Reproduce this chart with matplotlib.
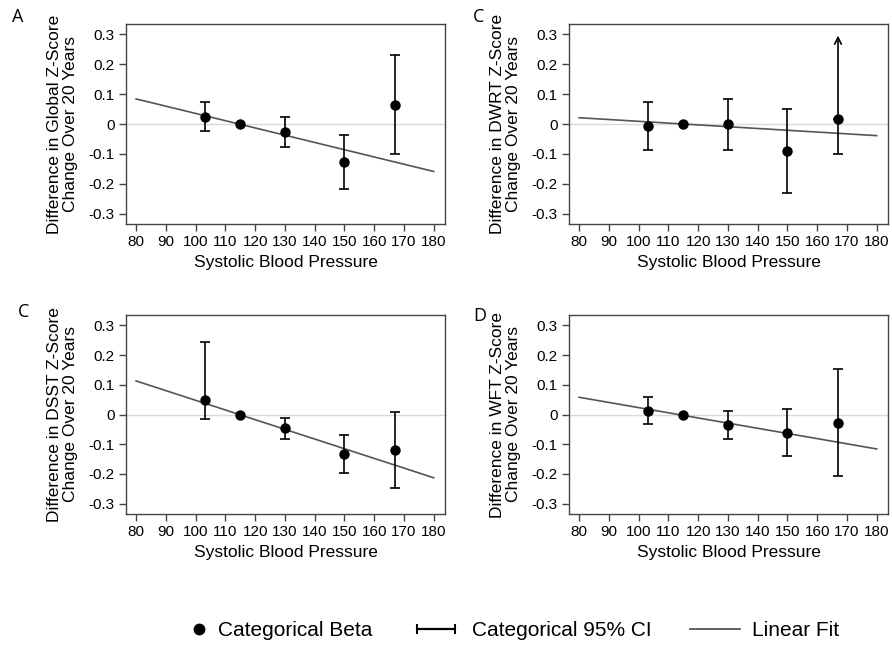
import numpy as np
import matplotlib
matplotlib.use("Agg")
import matplotlib.pyplot as plt
from matplotlib.lines import Line2D
from matplotlib.legend_handler import HandlerLine2D

plt.rcParams['font.family'] = ['Liberation Sans', 'DejaVu Sans']
plt.rcParams['axes.unicode_minus'] = False

# SBP category midpoints (115 is the reference category)
sbp = [103, 115, 130, 150, 167]
fit_x = [80, 180]

global_beta = [0.025, 0.0, -0.028, -0.127, 0.064]
global_lo = [-0.023, np.nan, -0.078, -0.217, -0.099]
global_hi = [0.074, np.nan, 0.023, -0.038, 0.230]
global_fit = [0.084, -0.159]

dwrt_beta = [-0.008, 0.0, -0.001, -0.092, 0.017]
dwrt_lo = [-0.088, np.nan, -0.086, -0.232, -0.099]
dwrt_hi = [0.074, np.nan, 0.084, 0.050, 0.40]   # last one runs off the axis
dwrt_fit = [0.021, -0.039]

dsst_beta = [0.048, 0.0, -0.047, -0.133, -0.118]
dsst_lo = [-0.014, np.nan, -0.083, -0.196, -0.246]
dsst_hi = [0.244, np.nan, -0.011, -0.070, 0.010]
dsst_fit = [0.113, -0.213]

wft_beta = [0.013, 0.0, -0.036, -0.062, -0.027]
wft_lo = [-0.033, np.nan, -0.083, -0.139, -0.206]
wft_hi = [0.059, np.nan, 0.013, 0.017, 0.152]
wft_fit = [0.058, -0.116]

yticks = [0.3, 0.2, 0.1, 0, -0.1, -0.2, -0.3]
ytick_labels = ["0.3", "0.2", "0.1", "0", "-0.1", "-0.2", "-0.3"]
xticks = [80, 90, 100, 110, 120, 130, 140, 150, 160, 170, 180]

panels = [
    ("A", "Global", global_beta, global_lo, global_hi, global_fit),
    ("C", "DWRT", dwrt_beta, dwrt_lo, dwrt_hi, dwrt_fit),
    ("C", "DSST", dsst_beta, dsst_lo, dsst_hi, dsst_fit),
    ("D", "WFT", wft_beta, wft_lo, wft_hi, wft_fit),
]

W, H = 892, 645
# axes boxes in pixels: left, top, right, bottom
boxes = [(126, 24, 445, 224), (569, 24, 888, 224),
         (126, 315, 445, 514), (569, 315, 888, 514)]
letter_pos = [(12, 17), (473, 17), (18, 312), (473, 316)]


class RightDot(HandlerLine2D):
    # put the single legend marker at the right end of the handle box
    def get_xdata(self, legend, xdescent, ydescent, width, height, fontsize):
        x = [-xdescent + width - 5]
        return x, x


fig = plt.figure(figsize=(W / 100, H / 100), dpi=100)
ymax = 0.3
for (letter, name, beta, lo, hi, fit), box, lp in zip(panels, boxes, letter_pos):
    l, t, r, b = box
    ax = fig.add_axes([l / W, 1 - b / H, (r - l) / W, (b - t) / H])
    ax.axhline(0, color='#d9d9d9', lw=1, zorder=1)
    ax.plot(fit_x, fit, color='#555555', lw=1.2, zorder=2)

    beta = np.array(beta)
    lo = np.array(lo)
    hi = np.array(hi)
    ok = ~np.isnan(lo) & (hi <= ymax)
    ax.errorbar(np.array(sbp)[ok], beta[ok],
                yerr=[beta[ok] - lo[ok], hi[ok] - beta[ok]],
                fmt='none', ecolor='black', elinewidth=1.2, capsize=3.3, capthick=1.2, zorder=3)
    # CIs that run past the top of the axis: lower cap + arrow
    off = ~np.isnan(lo) & (hi > ymax)
    for xv, bv, lv in zip(np.array(sbp)[off], beta[off], lo[off]):
        ax.errorbar([xv], [bv], yerr=[[bv - lv], [0]], fmt='none', ecolor='black',
                    elinewidth=1.2, capsize=3.3, capthick=1.2, zorder=3)
        ax.annotate('', xy=(xv, 0.296), xytext=(xv, bv),
                    arrowprops=dict(arrowstyle='->', color='black', lw=1.2,
                                    shrinkA=0, shrinkB=0, mutation_scale=12))
    ax.plot(sbp, beta, 'o', color='black', ms=6.5, zorder=4)

    ax.set_xlim(76.6, 183.8)
    ax.set_ylim(-0.335, 0.335)
    ax.set_xticks(xticks)
    ax.set_yticks(yticks)
    ax.set_yticklabels(ytick_labels)
    ax.tick_params(labelsize=11, length=5, color='#444444', width=1, pad=3)
    for s in ax.spines.values():
        s.set_color('#444444')
        s.set_linewidth(1)
    ax.set_xlabel("Systolic Blood Pressure", fontsize=12.5, labelpad=4)
    ax.set_ylabel(f"Difference in {name} Z-Score\nChange Over 20 Years",
                  fontsize=12.5, labelpad=8, linespacing=1.05)
    fig.text(lp[0] / W, 1 - lp[1] / H, letter, fontsize=13, family='Open Sans',
             ha='left', va='center')

h_beta = Line2D([], [], ls='none', marker='o', color='black', ms=7.5)
h_ci = Line2D([], [], color='black', lw=1.6, marker='|', ms=7, mew=1.4)
h_fit = Line2D([], [], color='#555555', lw=1.3)
fig.legend([h_beta, h_ci, h_fit],
           ["Categorical Beta", "Categorical 95% CI", "Linear Fit"],
           loc='center', bbox_to_anchor=(0.558, 1 - 631 / H), ncol=3, frameon=False,
           fontsize=15, handlelength=2.4, handletextpad=0.55, columnspacing=1.85,
           handler_map={h_beta: RightDot(numpoints=1),
                        h_ci: HandlerLine2D(numpoints=2),
                        h_fit: HandlerLine2D(numpoints=1)})

fig.savefig("out.png", dpi=100)
